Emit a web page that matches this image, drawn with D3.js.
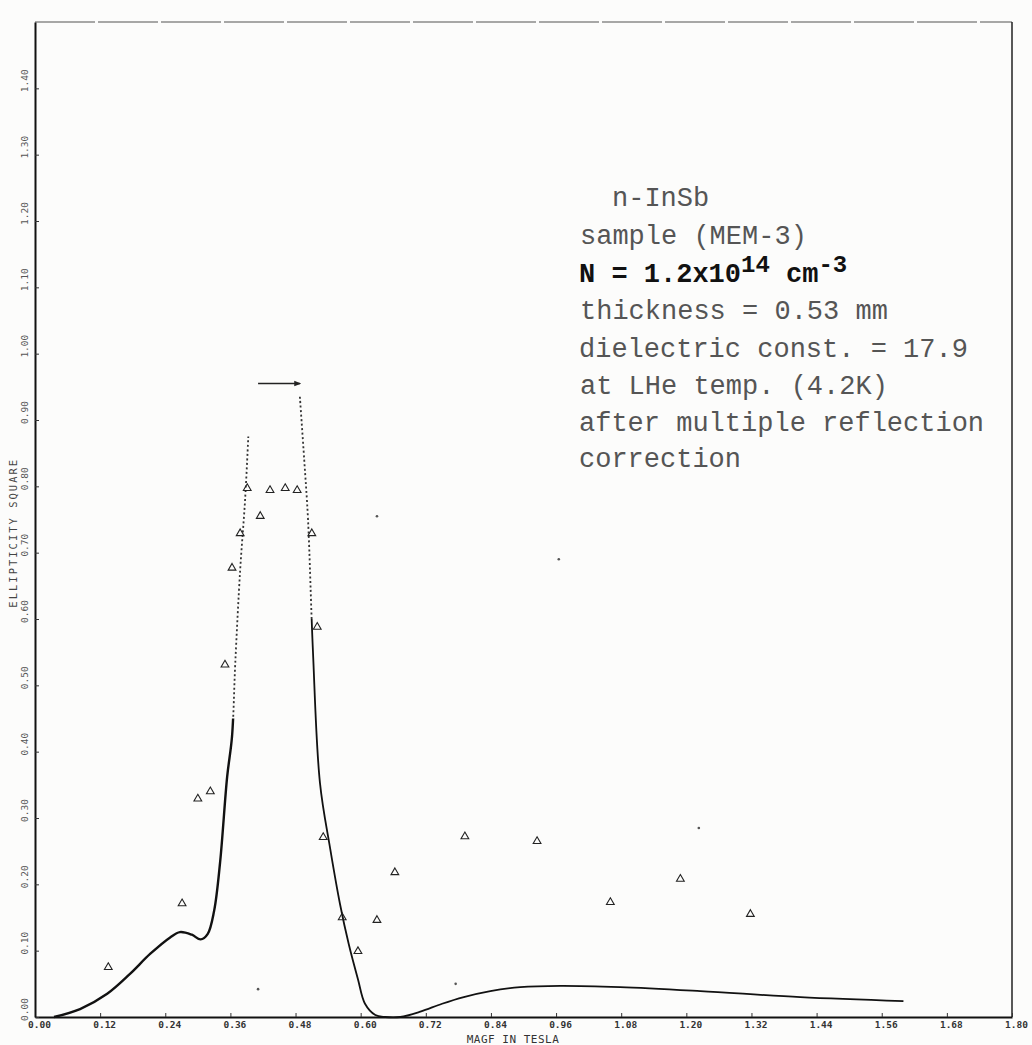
<!DOCTYPE html>
<html>
<head>
<meta charset="utf-8">
<script src="https://cdn.jsdelivr.net/npm/d3@7"></script>
<style>
  html, body { margin: 0; padding: 0; background: #fcfcfb; }
  svg { display: block; }
  .tick text { font-family: "DejaVu Sans Mono", monospace; font-size: 9.5px; font-weight: bold; fill: #333; }
  .note { font-family: "Liberation Mono", "DejaVu Sans Mono", monospace; font-size: 27px; fill: #555; }
</style>
</head>
<body>
<div id="chart"></div>
<script>
// axis ticks
const xTickValues = [0, 0.12, 0.24, 0.36, 0.48, 0.60, 0.72, 0.84, 0.96, 1.08, 1.20, 1.32, 1.44, 1.56, 1.68, 1.80];
const xTickLabels = ["0.00","0.12","0.24","0.36","0.48","0.60","0.72","0.84","0.96","1.08","1.20","1.32","1.44","1.56","1.68","1.80"];
const yTickValues = [0, 0.1, 0.2, 0.3, 0.4, 0.5, 0.6, 0.7, 0.8, 0.9, 1.0, 1.1, 1.2, 1.3, 1.4];
const yTickLabels = ["0.00","0.10","0.20","0.30","0.40","0.50","0.60","0.70","0.80","0.90","1.00","1.10","1.20","1.30","1.40"];

// calculated curve, rising side up to the peak
const leftX = [0.035, 0.083, 0.133, 0.175, 0.212, 0.249, 0.267, 0.289, 0.305, 0.318, 0.330, 0.341, 0.354, 0.363, 0.369, 0.378, 0.387, 0.393];
const leftY = [0.0, 0.012, 0.035, 0.065, 0.095, 0.12, 0.128, 0.124, 0.117, 0.125, 0.16, 0.233, 0.362, 0.423, 0.534, 0.674, 0.779, 0.875];
// flat top of the peak
const topX = [0.411, 0.488];
const topY = [0.955, 0.955];
// falling side and the tail
const rightX = [0.488, 0.496, 0.503, 0.512, 0.525, 0.544, 0.562, 0.578, 0.595, 0.608, 0.627, 0.645, 0.673, 0.71, 0.75, 0.79, 0.839, 0.894, 0.968, 1.078, 1.226, 1.41, 1.60];
const rightY = [0.935, 0.84, 0.75, 0.553, 0.353, 0.253, 0.17, 0.11, 0.057, 0.02, 0.003, 0.0, 0.0, 0.008, 0.02, 0.03, 0.039, 0.045, 0.047, 0.045, 0.039, 0.03, 0.024];

// measured points (triangles)
const measX = [0.135, 0.271, 0.300, 0.323, 0.350, 0.363, 0.378, 0.391, 0.415, 0.433, 0.461, 0.483, 0.510, 0.520, 0.531, 0.566, 0.595, 0.630, 0.663, 0.792, 0.925, 1.060, 1.189, 1.318];
const measY = [0.075, 0.171, 0.329, 0.340, 0.531, 0.677, 0.729, 0.797, 0.755, 0.794, 0.797, 0.794, 0.729, 0.588, 0.271, 0.150, 0.099, 0.146, 0.218, 0.272, 0.265, 0.173, 0.208, 0.155];

// loose marks on the sheet
const strayX = [0.411, 0.630, 0.775, 0.965, 1.223];
const strayY = [0.042, 0.755, 0.05, 0.69, 0.285];

const notes = [
  {text: "n-InSb", x: 612, y: 206},
  {text: "sample (MEM-3)", x: 580, y: 244},
  {text: "N", x: 579, y: 282, sup: true},
  {text: "thickness = 0.53 mm", x: 580, y: 319},
  {text: "dielectric const. = 17.9", x: 579, y: 357},
  {text: "at LHe temp. (4.2K)", x: 580, y: 394},
  {text: "after multiple reflection", x: 579, y: 431},
  {text: "correction", x: 579, y: 467}
];

const w = 1032;
const h = 1045;

const svg = d3.select("#chart").append("svg")
  .attr("width", w)
  .attr("height", h);

svg.append("rect").attr("width", w).attr("height", h).attr("fill", "#fcfcfb");

const x = d3.scaleLinear().domain([0, 1.8]).range([35, 1012]);
const y = d3.scaleLinear().domain([0, 1.5]).range([1017, 22]);

// frame: top and right sides
svg.append("line")
  .attr("x1", x(0)).attr("x2", x(1.8)).attr("y1", y(1.5)).attr("y2", y(1.5))
  .attr("stroke", "#8a8a8a").attr("stroke-width", 1.3).attr("stroke-dasharray", "60,3");
svg.append("line")
  .attr("x1", x(1.8)).attr("x2", x(1.8)).attr("y1", y(1.5)).attr("y2", y(0))
  .attr("stroke", "#222").attr("stroke-width", 1.5);

const xAxis = d3.axisBottom(x)
  .tickValues(xTickValues)
  .tickFormat((d, i) => xTickLabels[i])
  .tickSizeInner(-4)
  .tickSizeOuter(0)
  .tickPadding(4);

const gx = svg.append("g")
  .attr("transform", `translate(0,${y(0)})`)
  .call(xAxis);
gx.select(".domain").attr("stroke", "#111").attr("stroke-width", 2);
gx.selectAll(".tick line").attr("stroke", "#333");
gx.selectAll(".tick text").attr("dx", 4);

const yAxis = d3.axisLeft(y)
  .tickValues(yTickValues)
  .tickFormat((d, i) => yTickLabels[i])
  .tickSizeInner(-4)
  .tickSizeOuter(0);

const gy = svg.append("g")
  .attr("transform", `translate(${x(0)},0)`)
  .call(yAxis);
gy.select(".domain").attr("stroke", "#111").attr("stroke-width", 2);
gy.selectAll(".tick line").attr("stroke", "#333");
gy.selectAll(".tick text")
  .attr("x", null).attr("dy", null)
  .attr("text-anchor", "middle")
  .style("font-weight", "normal")
  .style("fill", "#555")
  .attr("transform", "translate(-7,-8) rotate(-90)");

// axis titles
svg.append("text")
  .attr("x", 513).attr("y", 1043)
  .attr("text-anchor", "middle")
  .style("font-family", "DejaVu Sans Mono, monospace")
  .style("font-size", "11px")
  .style("letter-spacing", "0.5px")
  .attr("fill", "#333")
  .text("MAGF IN TESLA");

svg.append("text")
  .attr("transform", `translate(17,${y(0.73)}) rotate(-90)`)
  .attr("text-anchor", "middle")
  .style("font-family", "DejaVu Sans Mono, monospace")
  .style("font-size", "10.5px")
  .style("letter-spacing", "2px")
  .attr("fill", "#444")
  .text("ELLIPTICITY SQUARE");

const line = d3.line()
  .x(d => x(d[0]))
  .y(d => y(d[1]))
  .curve(d3.curveCatmullRom.alpha(0.5));

const leftData = leftX.map((v, i) => [v, leftY[i]]);
const rightData = rightX.map((v, i) => [v, rightY[i]]);

// steep parts were plotted as close dots; lower parts as a solid trace
const defs = svg.append("defs");
defs.append("clipPath").attr("id", "lowL")
  .append("rect").attr("x", 0).attr("y", y(0.45)).attr("width", w).attr("height", h);
defs.append("clipPath").attr("id", "highL")
  .append("rect").attr("x", 0).attr("y", 0).attr("width", w).attr("height", y(0.45));
defs.append("clipPath").attr("id", "lowR")
  .append("rect").attr("x", 0).attr("y", y(0.6)).attr("width", w).attr("height", h);
defs.append("clipPath").attr("id", "highR")
  .append("rect").attr("x", 0).attr("y", 0).attr("width", w).attr("height", y(0.6));

[[leftData, "L", 2.4], [rightData, "R", 1.8]].forEach(([data, side, sw]) => {
  svg.append("path")
    .attr("d", line(data))
    .attr("fill", "none")
    .attr("stroke", "#111")
    .attr("stroke-width", sw)
    .attr("clip-path", `url(#low${side})`);
  svg.append("path")
    .attr("d", line(data))
    .attr("fill", "none")
    .attr("stroke", "#333")
    .attr("stroke-width", 1.8)
    .attr("stroke-dasharray", "2,2.5")
    .attr("clip-path", `url(#high${side})`);
});

defs.append("marker")
  .attr("id", "arrow")
  .attr("viewBox", "0 0 10 10")
  .attr("refX", 8).attr("refY", 5)
  .attr("markerWidth", 5).attr("markerHeight", 5)
  .attr("orient", "auto")
  .append("path").attr("d", "M0,1 L10,5 L0,9 Z").attr("fill", "#222");

svg.append("path")
  .attr("d", d3.line().x(d => x(d[0])).y(d => y(d[1]))(topX.map((v, i) => [v, topY[i]])))
  .attr("fill", "none")
  .attr("stroke", "#222")
  .attr("stroke-width", 1.4)
  .attr("marker-end", "url(#arrow)");

const tri = d3.symbol().type(d3.symbolTriangle).size(26);
svg.append("g")
  .selectAll("path")
  .data(measX.map((v, i) => [v, measY[i]]))
  .enter()
  .append("path")
  .attr("d", tri)
  .attr("transform", d => `translate(${x(d[0])},${y(d[1])})`)
  .attr("fill", "none")
  .attr("stroke", "#222")
  .attr("stroke-width", 1.1);

svg.append("g")
  .selectAll("circle")
  .data(strayX.map((v, i) => [v, strayY[i]]))
  .enter()
  .append("circle")
  .attr("cx", d => x(d[0]))
  .attr("cy", d => y(d[1]))
  .attr("r", 1.3)
  .attr("fill", "#555");

// typed annotation
const noteG = svg.append("g");
notes.forEach(n => {
  const t = noteG.append("text")
    .attr("class", "note")
    .attr("x", n.x)
    .attr("y", n.y);
  if (n.sup) {
    t.style("fill", "#111").style("font-weight", "bold");
    t.append("tspan").text("N = 1.2x10");
    t.append("tspan").attr("dy", -10).style("font-size", "24px").text("14");
    t.append("tspan").attr("dy", 10).text(" cm");
    t.append("tspan").attr("dy", -10).style("font-size", "24px").text("-3");
  } else {
    t.text(n.text);
  }
});
</script>
</body>
</html>
